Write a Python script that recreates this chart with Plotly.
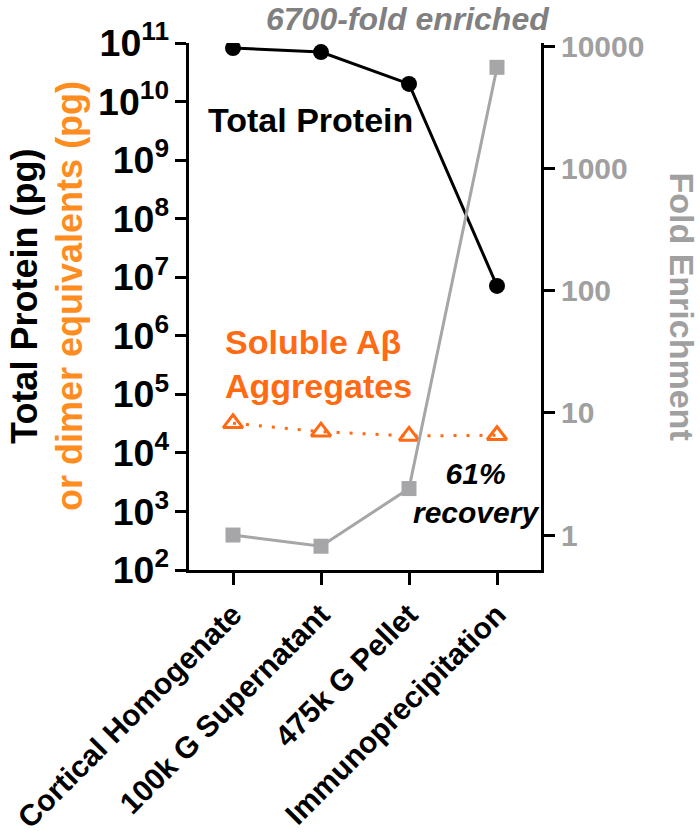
import plotly.graph_objects as go

categories = ["Cortical Homogenate", "100k G Supernatant", "475k G Pellet", "Immunoprecipitation"]
total_protein = [8.2e10, 7.0e10, 2.0e10, 7.1e6]
soluble_abeta = [3.2e4, 2.3e4, 1.95e4, 2.0e4]
fold_enrichment = [1.0, 0.81, 2.4, 6700]
right_tick_vals = [1, 10, 100, 1000, 10000]
right_tick_text = ["1", "10", "100", "1000", "10000"]

FONT = "Arial, Liberation Sans, sans-serif"
BLACK = "#000000"
ORANGE = "#FF6A13"
ORANGE_T = "#FF8C1F"
GREY = "#A6A6A8"
GREY_T = "#A0A0A0"
GREY_D = "#808080"

x = list(range(len(categories)))

fig = go.Figure()
fig.add_trace(go.Scatter(
    x=x, y=fold_enrichment, yaxis="y2", mode="lines+markers",
    line=dict(color=GREY, width=3),
    marker=dict(symbol="square", size=15, color=GREY),
    showlegend=False))
fig.add_trace(go.Scatter(
    x=x, y=total_protein, mode="lines+markers",
    line=dict(color=BLACK, width=3),
    marker=dict(symbol="circle", size=16, color=BLACK),
    showlegend=False))
fig.add_trace(go.Scatter(
    x=x, y=soluble_abeta, mode="lines+markers",
    line=dict(color=ORANGE, width=3, dash="3px,10px"),
    marker=dict(symbol="triangle-up-open", size=17, color=ORANGE, line=dict(width=3, color=ORANGE)),
    showlegend=False))

fig.update_layout(
    width=700, height=835,
    margin=dict(l=189, r=159, t=43, b=265),
    plot_bgcolor="white", paper_bgcolor="white",
    font=dict(family=FONT, color=BLACK),
    xaxis=dict(
        range=[-0.5, 3.5], tickmode="array", tickvals=x, ticktext=categories,
        tickangle=-45, tickfont=dict(size=30, weight="bold", color=BLACK),
        showline=True, linecolor=BLACK, linewidth=3,
        ticks="outside", ticklen=12, tickwidth=3, tickcolor=BLACK,
        showgrid=False, zeroline=False, automargin=False),
    yaxis=dict(
        type="log", range=[2, 11], dtick=1, exponentformat="power", showexponent="all",
        tickfont=dict(size=30, weight="bold", color=BLACK),
        showline=True, linecolor=BLACK, linewidth=3,
        ticks="outside", ticklen=11, tickwidth=3, tickcolor=BLACK,
        showgrid=False, zeroline=False, automargin=False),
    yaxis2=dict(
        type="log", range=[-0.286, 4.025], overlaying="y", side="right",
        tickmode="array", tickvals=right_tick_vals, ticktext=right_tick_text,
        tickfont=dict(size=30, weight="bold", color=GREY_T),
        showline=True, linecolor=BLACK, linewidth=3,
        ticks="outside", ticklen=11, tickwidth=3, tickcolor=BLACK,
        showgrid=False, zeroline=False, automargin=False),
)

anns = [
    dict(text="Total Protein (pg)", x=-0.466, y=0.52, textangle=-90,
         font=dict(size=36, weight="bold", color=BLACK)),
    dict(text="or dimer equivalents (pg)", x=-0.338, y=0.52, textangle=-90,
         font=dict(size=36, weight="bold", color=ORANGE_T)),
    dict(text="Fold Enrichment", x=1.402, y=0.501, textangle=90,
         font=dict(size=34, weight="bold", color=GREY_T)),
    dict(text="Total Protein", x=0.344, y=0.854,
         font=dict(size=34, weight="bold", color=BLACK)),
    dict(text="<i>6700-fold enriched</i>", x=0.622, y=1.045,
         font=dict(size=32, weight="bold", color=GREY_D)),
    dict(text="Soluble Aβ<br>Aggregates", x=0.0966, y=0.39, xanchor="left", align="left",
         font=dict(size=34, weight="bold", color=ORANGE)),
    dict(text="<i>61%<br>recovery</i>", x=0.815, y=0.146,
         font=dict(size=30, weight="bold", color=BLACK)),
]
for a in anns:
    a.setdefault("xanchor", "center")
    fig.add_annotation(xref="paper", yref="paper", showarrow=False, yanchor="middle", **a)

fig.write_html("out.html", config={"displayModeBar": False},
               post_script="document.body.style.margin='0px';")
